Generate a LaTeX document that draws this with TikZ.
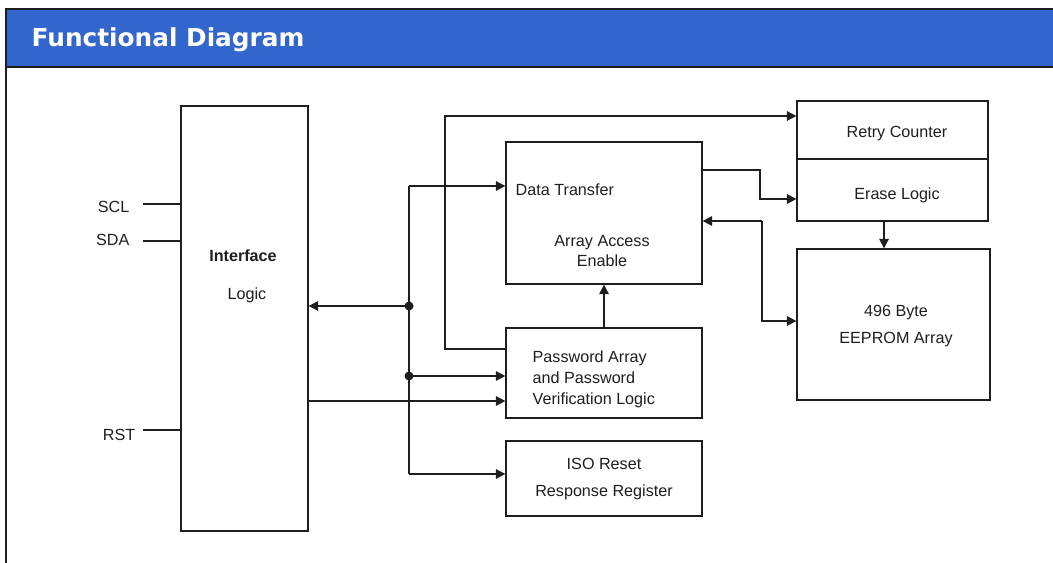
\documentclass[tikz,border=0pt]{standalone}
\usepackage{fontspec}
\setmainfont{Liberation Sans}
\newfontfamily\titlefont{DejaVu Sans}
\usetikzlibrary{arrows.meta}

\definecolor{hdrblue}{RGB}{51,102,204}
\definecolor{ink}{RGB}{30,30,30}

\tikzset{
	blk/.style={draw=ink, line width=0.7pt, minimum width=#1, inner sep=0pt},
	txt/.style={font=\fontsize{9.2}{11.9}\selectfont, text=ink, inner sep=0pt},
	arr/.style={-{Triangle[length=5.4pt,width=5.4pt]}},
	dot/.style={fill=ink}
}

\begin{document}
\begin{tikzpicture}[x=0.02cm, y=-0.02cm, line width=0.8pt, draw=ink]

	\useasboundingbox (0,0) rectangle (1053,563);

	% header and frame
	\fill[hdrblue] (6,9) rectangle (1053,67);
	\draw[line width=1.2pt] (1053,9) -- (6,9) -- (6,563);
	\draw[line width=1.2pt] (6,67) -- (1053,67);
	\node[anchor=base west, text=white, font=\titlefont\bfseries\fontsize{14.1}{17}\selectfont, inner sep=0pt] (title) at (31,47) {Functional Diagram};

	% blocks
	\node[blk=2.54cm, minimum height=8.5cm] (il) at (244.5,318.5) {};
	\node[blk=3.92cm, minimum height=2.84cm] (dt) at (604,213) {};
	\node[blk=3.92cm, minimum height=1.8cm] (pw) at (604,373) {};
	\node[blk=3.92cm, minimum height=1.5cm] (iso) at (604,478.5) {};
	\node[blk=3.82cm, minimum height=1.16cm] (rc) at (892.5,130) {};
	\node[blk=3.82cm, minimum height=1.24cm] (el) at (892.5,190) {};
	\node[blk=3.86cm, minimum height=3.02cm] (ee) at (893.5,324.5) {};

	% texts
	\node[txt, font=\fontsize{9.2}{11.9}\selectfont\bfseries] (ilt) at (243,256) {Interface};
	\node[txt] (ilt2) at (247,295) {Logic};
	\node[txt, anchor=west] (dtt) at (515,190) {Data Transfer};
	\node[txt, align=center] (dtt2) at (602,251) {Array Access\\Enable};
	\node[txt, align=left, anchor=west] (pwt) at (532,379) {Password Array\\and Password\\Verification Logic};
	\node[txt, align=center] (isot) at (604,479) {ISO Reset\\[3pt]Response Register};
	\node[txt] (rct) at (897,134) {Retry Counter};
	\node[txt] (elt) at (897,195) {Erase Logic};
	\node[txt, align=center] (eet) at (896,326) {496 Byte\\[3.8pt]EEPROM Array};

	% pins
	\node[txt, anchor=east] (scl) at (130,207) {SCL};
	\node[txt, anchor=east] (sda) at (130,240) {SDA};
	\node[txt, anchor=east] (rst) at (136,435) {RST};
	\draw (il.west |- 0,204) -- ++(-37,0);
	\draw (il.west |- 0,241) -- ++(-37,0);
	\draw (il.west |- 0,430) -- ++(-37,0);

	% bus
	\coordinate (b1) at (409,186);
	\coordinate (b2) at (409,306);
	\coordinate (b3) at (409,376);
	\coordinate (b4) at (409,474);
	\draw (b1) -- (b4);
	\fill[dot] (b2) circle (4.5);
	\fill[dot] (b3) circle (4.5);
	\draw[arr] (b2) -- (il.east |- b2);
	\draw[arr] (b1) -- (dt.west |- b1);
	\draw[arr] (b3) -- (pw.west |- b3);
	\draw[arr] (b4) -- (iso.west |- b4);
	\draw[arr] (il.east |- 0,401) -- (pw.west |- 0,401);

	% password to retry counter
	\draw[arr] (pw.west |- 0,349) -| (445,116) -- (rc.west |- 0,116);
	\draw[arr] (pw.north) -- (dt.south);

	% data transfer to erase logic and eeprom
	\draw[arr] (dt.east |- 0,170) -| (760,199) -- (el.west |- 0,199);
	\draw[arr] (762,221) -- (dt.east |- 0,221);
	\draw[arr] (762,221) |- (ee.west |- 0,321);
	\draw[arr] (el.south -| 884,0) -- (ee.north -| 884,0);

\end{tikzpicture}
\end{document}
